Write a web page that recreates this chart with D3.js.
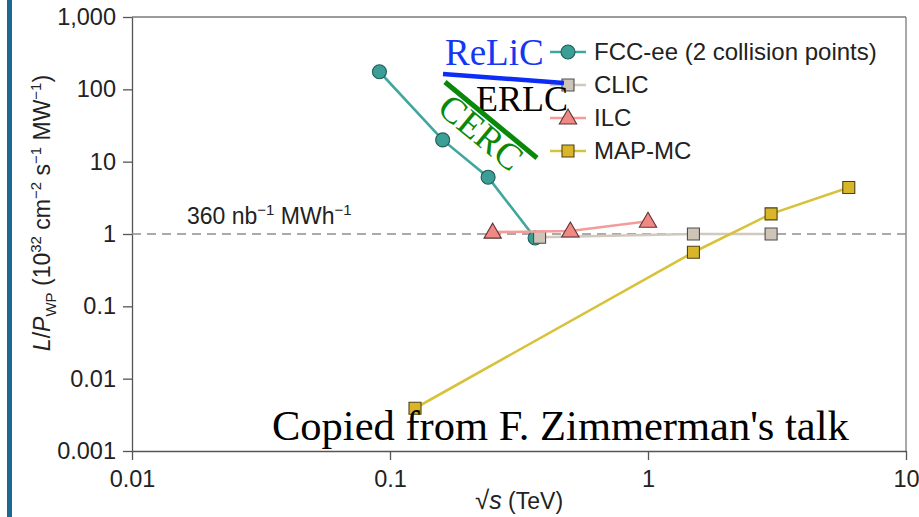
<!DOCTYPE html>
<html><head><meta charset="utf-8">
<script src="https://cdn.jsdelivr.net/npm/d3@7"></script>
<style>body{margin:0;background:#fff;} svg{display:block;}</style>
</head><body>
<svg id="c" width="919" height="517"></svg>
<script>
// ---- data ----
const seriesNames = ["FCC-ee (2 collision points)", "CLIC", "ILC", "MAP-MC"];
const fccX = [0.091, 0.16, 0.24, 0.365];
const fccY = [175, 20, 6.1, 0.88];
const clicX = [0.38, 1.5, 3];
const clicY = [0.9, 1.0, 1.0];
const ilcX = [0.25, 0.5, 1.0];
const ilcY = [1.06, 1.1, 1.5];
const mapX = [0.125, 1.5, 3, 6];
const mapY = [0.0039, 0.56, 1.9, 4.4];
const xTicks = [0.01, 0.1, 1, 10];
const xTickLabels = ["0.01", "0.1", "1", "10"];
const yTicks = [0.001, 0.01, 0.1, 1, 10, 100, 1000];
const yTickLabels = ["0.001", "0.01", "0.1", "1", "10", "100", "1,000"];
const refLevel = 1;
const annotations = ["ReLiC", "ERLC", "CERC", "Copied from F. Zimmerman's talk"];

// ---- setup ----
const svg = d3.select("#c");
const SANS = "'Liberation Sans', Arial, Helvetica, sans-serif";
const SERIF = "'Liberation Serif', 'Times New Roman', serif";
const L = 132, R = 906, T = 17, B = 451;
const x = d3.scaleLog().domain([0.01, 10]).range([L, R]);
const y = d3.scaleLog().domain([0.001, 1000]).range([B, T]);

svg.append("rect").attr("x", 7).attr("y", 0).attr("width", 5).attr("height", 517).attr("fill", "#1d6891");

// frame
svg.append("line").attr("x1", L).attr("x2", R).attr("y1", T).attr("y2", T).attr("stroke", "#7a7a7a").attr("stroke-width", 1.3);
svg.append("line").attr("x1", R).attr("x2", R).attr("y1", T).attr("y2", B).attr("stroke", "#7a7a7a").attr("stroke-width", 1.3);

// axes
const yAxis = d3.axisLeft(y).tickValues(yTicks).tickFormat((d, i) => yTickLabels[i]).tickSize(9).tickSizeOuter(0).tickPadding(7);
const xAxis = d3.axisBottom(x).tickValues(xTicks).tickFormat((d, i) => xTickLabels[i]).tickSize(9).tickSizeOuter(0).tickPadding(10);
const gy = svg.append("g").attr("transform", `translate(${L},0)`).call(yAxis);
const gx = svg.append("g").attr("transform", `translate(0,${B})`).call(xAxis);
[gx, gy].forEach(g => {
  g.select(".domain").attr("stroke", "#555").attr("stroke-width", 1.3);
  g.selectAll(".tick line").attr("stroke", "#555").attr("stroke-width", 1.3);
  g.selectAll(".tick text").attr("fill", "#222").attr("font-family", SANS).attr("font-size", 23.5);
});

// reference dashed line
svg.append("line").attr("x1", L).attr("x2", R).attr("y1", y(refLevel)).attr("y2", y(refLevel))
  .attr("stroke", "#8f8f8f").attr("stroke-width", 1.6).attr("stroke-dasharray", "9,6");
const ref = svg.append("text").attr("x", 187).attr("y", 224).attr("font-family", SANS).attr("font-size", 23).attr("fill", "#222");
ref.append("tspan").text("360 nb");
ref.append("tspan").attr("font-size", 15).attr("dy", -9).text("−1");
ref.append("tspan").attr("dy", 9).text(" MWh");
ref.append("tspan").attr("font-size", 15).attr("dy", -9).text("−1");

// axis titles
const yt = svg.append("text").attr("transform", "translate(50,213) rotate(-90)").attr("text-anchor", "middle")
  .attr("font-family", SANS).attr("font-size", 23).attr("fill", "#222");
yt.append("tspan").attr("font-style", "italic").text("L");
yt.append("tspan").text("/");
yt.append("tspan").attr("font-style", "italic").text("P");
yt.append("tspan").attr("font-size", 15).attr("dy", 6).text("WP");
yt.append("tspan").attr("dy", -6).text(" (10");
yt.append("tspan").attr("font-size", 15).attr("dy", -9).text("32");
yt.append("tspan").attr("dy", 9).text(" cm");
yt.append("tspan").attr("font-size", 15).attr("dy", -9).text("−2");
yt.append("tspan").attr("dy", 9).text(" s");
yt.append("tspan").attr("font-size", 15).attr("dy", -9).text("−1");
yt.append("tspan").attr("dy", 9).text(" MW");
yt.append("tspan").attr("font-size", 15).attr("dy", -9).text("−1");
yt.append("tspan").attr("dy", 9).text(")");

const xt = svg.append("text").attr("x", 519).attr("y", 509).attr("text-anchor", "middle")
  .attr("font-family", SANS).attr("font-size", 23).attr("fill", "#222");
xt.append("tspan").attr("font-size", 26).text("√");
xt.append("tspan").attr("font-style", "italic").attr("font-size", 25).text("s");
xt.append("tspan").text(" (TeV)");

// series
const series = [
  { name: seriesNames[0], xs: fccX, ys: fccY, line: "#41a79e", fill: "#3b9f97", stroke: "#1f5c57", shape: "circle" },
  { name: seriesNames[1], xs: clicX, ys: clicY, line: "#d2c9be", fill: "#cec4b8", stroke: "#4d4d4d", shape: "square" },
  { name: seriesNames[2], xs: ilcX, ys: ilcY, line: "#f29c9b", fill: "#f08884", stroke: "#5e3333", shape: "triangle" },
  { name: seriesNames[3], xs: mapX, ys: mapY, line: "#d8c23a", fill: "#d9b52a", stroke: "#4f4210", shape: "square" }
];
const sym = {
  circle: d3.symbol().type(d3.symbolCircle).size(Math.PI * 7 * 7),
  square: d3.symbol().type(d3.symbolSquare).size(12 * 12),
  triangle: d3.symbol().type(d3.symbolTriangle).size(130)
};
const lineGen = d3.line().x(d => x(d[0])).y(d => y(d[1]));
function marker(g, s, px, py) {
  const off = s.shape === "triangle" ? 1 : 0;
  g.append("path").attr("d", sym[s.shape]()).attr("transform", `translate(${px},${py + off})`)
    .attr("fill", s.fill).attr("stroke", s.stroke).attr("stroke-width", 1.1);
}
series.forEach(s => {
  const pts = s.xs.map((v, i) => [v, s.ys[i]]);
  const g = svg.append("g");
  g.append("path").attr("d", lineGen(pts)).attr("fill", "none").attr("stroke", s.line).attr("stroke-width", 2.6);
  pts.forEach(p => marker(g, s, x(p[0]), y(p[1])));
});

// legend
const legY = [52, 85, 118, 151];
series.forEach((s, i) => {
  const g = svg.append("g");
  g.append("line").attr("x1", 550).attr("x2", 586).attr("y1", legY[i]).attr("y2", legY[i]).attr("stroke", s.line).attr("stroke-width", 2.6);
  marker(g, s, 568, legY[i]);
  g.append("text").attr("x", 594).attr("y", legY[i] + 8).attr("font-family", SANS).attr("font-size", 24).attr("fill", "#222").text(s.name);
});

// annotations
svg.append("line").attr("x1", 443).attr("y1", 74).attr("x2", 564).attr("y2", 83).attr("stroke", "#0d2cf5").attr("stroke-width", 4.5);
svg.append("text").attr("x", 445).attr("y", 65).attr("font-family", SERIF).attr("font-size", 37).attr("fill", "#1436f5").text(annotations[0]);
svg.append("text").attr("x", 476).attr("y", 111).attr("font-family", SERIF).attr("font-size", 36).attr("fill", "#000").text(annotations[1]);
svg.append("line").attr("x1", 445).attr("y1", 82).attr("x2", 537).attr("y2", 158).attr("stroke", "#0a880a").attr("stroke-width", 5);
svg.append("text").attr("transform", "translate(473,142) rotate(39.6)").attr("text-anchor", "middle")
  .attr("font-family", SERIF).attr("font-size", 37).attr("fill", "#0a880a").text(annotations[2]);
svg.append("text").attr("x", 272).attr("y", 440).attr("font-family", SERIF).attr("font-size", 42.5).attr("fill", "#000").text(annotations[3]);
</script>
</body></html>
